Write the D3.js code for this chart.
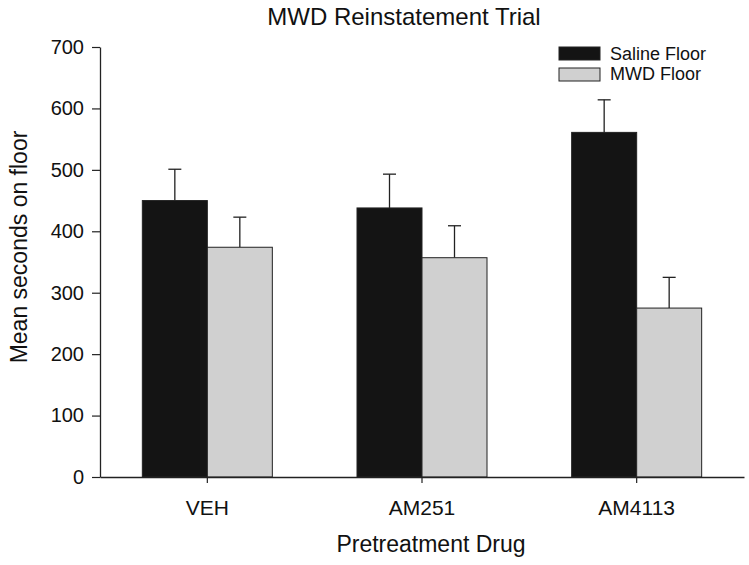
<!DOCTYPE html>
<html>
<head>
<meta charset="utf-8">
<script src="https://cdn.jsdelivr.net/npm/d3@7"></script>
<style>
  body { margin: 0; background: #fff; }
  text { font-family: "Liberation Sans", Arial, sans-serif; fill: #111; }
</style>
</head>
<body>
<div id="chart"></div>
<script>
// data
const drugs = ["VEH", "AM251", "AM4113"];
const seriesNames = ["Saline Floor", "MWD Floor"];
const salineMeans = [450, 438, 561];
const salineErr = [51, 55, 53];
const mwdMeans = [374, 357, 275];
const mwdErr = [49, 52, 50];
const yTicks = [0, 100, 200, 300, 400, 500, 600, 700];

const colors = ["#141414", "#d0d0d0"];

const W = 749, H = 565;
const margin = {top: 47, right: 5, bottom: 88, left: 100};
const width = W - margin.left - margin.right,
      height = H - margin.top - margin.bottom;

const svg = d3.select("#chart").append("svg")
  .attr("width", W).attr("height", H);

const g = svg.append("g")
  .attr("transform", `translate(${margin.left},${margin.top})`);

const x = d3.scaleBand().domain(drugs).range([0, width]).padding(0);
const y = d3.scaleLinear().domain([0, 700]).range([height, 0]);
const barW = 65;

// bars, one group per series
const series = [
  {name: seriesNames[0], means: salineMeans, err: salineErr, off: -barW},
  {name: seriesNames[1], means: mwdMeans, err: mwdErr, off: 0}
];

series.forEach((s, i) => {
  const rows = drugs.map((d, j) => ({drug: d, v: s.means[j], e: s.err[j]}));
  const cx = d => x(d.drug) + x.bandwidth() / 2 + s.off;

  // error bars (upper only)
  g.selectAll(null).data(rows).enter().append("line")
    .attr("x1", d => cx(d) + barW / 2).attr("x2", d => cx(d) + barW / 2)
    .attr("y1", d => y(d.v)).attr("y2", d => y(d.v + d.e))
    .attr("stroke", "#222").attr("stroke-width", 1.3);
  g.selectAll(null).data(rows).enter().append("line")
    .attr("x1", d => cx(d) + barW / 2 - 6.5).attr("x2", d => cx(d) + barW / 2 + 6.5)
    .attr("y1", d => y(d.v + d.e)).attr("y2", d => y(d.v + d.e))
    .attr("stroke", "#222").attr("stroke-width", 1.3);

  g.selectAll(null).data(rows).enter().append("rect")
    .attr("x", d => cx(d))
    .attr("y", d => y(d.v))
    .attr("width", barW)
    .attr("height", d => height - y(d.v))
    .attr("fill", colors[i])
    .attr("stroke", "#222").attr("stroke-width", 1);
});

// axes
const yAxis = g.append("g")
  .call(d3.axisLeft(y).tickValues(yTicks).tickSize(8).tickSizeOuter(0).tickPadding(8));
yAxis.selectAll("text").style("font-size", "20px");

const xAxis = g.append("g")
  .attr("transform", `translate(0,${height})`)
  .call(d3.axisBottom(x).tickSize(6).tickSizeOuter(0).tickPadding(17));
xAxis.selectAll("text").style("font-size", "21px");

[yAxis, xAxis].forEach(a => {
  a.select(".domain").attr("stroke", "#222").attr("stroke-width", 1.3);
  a.selectAll(".tick line").attr("stroke", "#222").attr("stroke-width", 1.2);
});

// title and axis labels
svg.append("text")
  .attr("x", 404).attr("y", 25)
  .attr("text-anchor", "middle")
  .style("font-size", "24px")
  .text("MWD Reinstatement Trial");

svg.append("text")
  .attr("x", 431).attr("y", 552)
  .attr("text-anchor", "middle")
  .style("font-size", "23px")
  .text("Pretreatment Drug");

svg.append("text")
  .attr("transform", `translate(27,${margin.top + height / 2 - 15}) rotate(-90)`)
  .attr("text-anchor", "middle")
  .style("font-size", "23px")
  .text("Mean seconds on floor");

// legend
const legend = svg.append("g").attr("transform", "translate(559,47)");
seriesNames.forEach((n, i) => {
  legend.append("rect")
    .attr("x", 0).attr("y", i * 21)
    .attr("width", 41).attr("height", 13)
    .attr("fill", colors[i]).attr("stroke", "#222").attr("stroke-width", 1);
  legend.append("text")
    .attr("x", 51).attr("y", i * 20 + 13)
    .style("font-size", "18px")
    .text(n);
});
</script>
</body>
</html>
